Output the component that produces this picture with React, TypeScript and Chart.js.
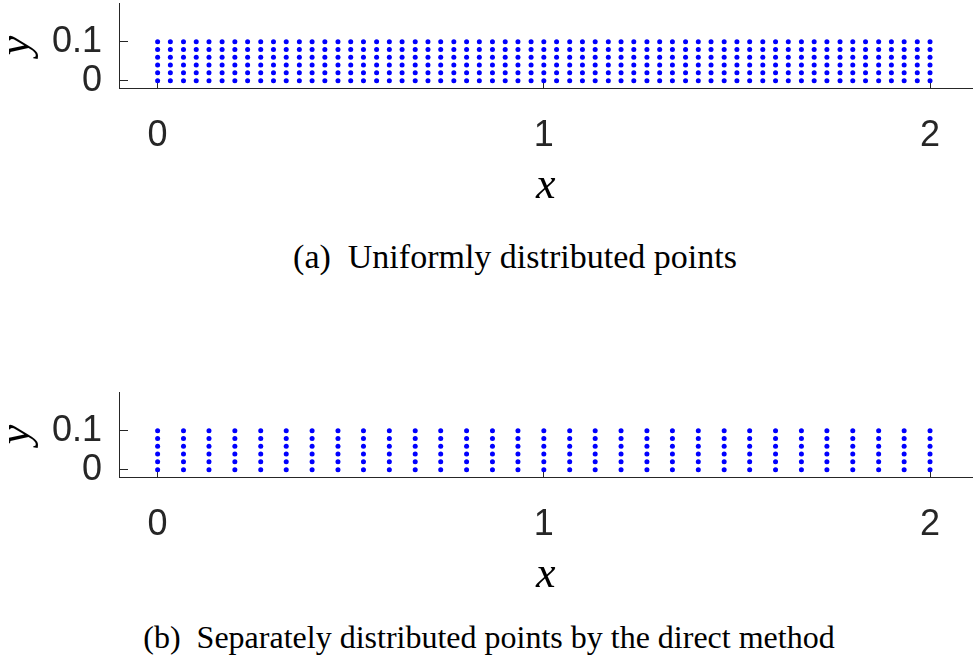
import React, { useEffect, useRef } from "react";
import { Chart, registerables } from "chart.js";

Chart.register(...registerables);

// Column x-positions of the uniformly distributed grid (panel a)
const uniformXs = [
  0, 0.033, 0.067, 0.1, 0.133, 0.167, 0.2, 0.233, 0.267, 0.3, 0.333, 0.367, 0.4, 0.433, 0.467,
  0.5, 0.533, 0.567, 0.6, 0.633, 0.667, 0.7, 0.733, 0.767, 0.8, 0.833, 0.867, 0.9, 0.933, 0.967,
  1, 1.033, 1.067, 1.1, 1.133, 1.167, 1.2, 1.233, 1.267, 1.3, 1.333, 1.367, 1.4, 1.433, 1.467,
  1.5, 1.533, 1.567, 1.6, 1.633, 1.667, 1.7, 1.733, 1.767, 1.8, 1.833, 1.867, 1.9, 1.933, 1.967, 2,
];
// Column x-positions of the separately distributed grid (panel b)
const separateXs = [
  0, 0.067, 0.133, 0.2, 0.267, 0.333, 0.4, 0.467, 0.533, 0.6, 0.667, 0.733, 0.8, 0.867, 0.933,
  1, 1.067, 1.133, 1.2, 1.267, 1.333, 1.4, 1.467, 1.533, 1.6, 1.667, 1.733, 1.8, 1.867, 1.933, 2,
];
// Row y-positions (same for both panels)
const rowYs = [0, 0.02, 0.04, 0.06, 0.08, 0.1];

const xTickValues = [0, 1, 2];
const yTickValues = [0, 0.1];
const xTickLabels = ["0", "1", "2"];
const yTickLabels = ["0", "0.1"];

const captionA = "(a)  Uniformly distributed points";
const captionB = "(b)  Separately distributed points by the direct method";

const AXIS = "#262626";
const SERIF = "'Liberation Serif', 'Times New Roman', serif";
const SANS = "'Liberation Sans', Arial, sans-serif";

type PanelProps = {
  top: number;
  xs: number[];
};

const CANVAS_H = 220;

function Panel({ top, xs }: PanelProps) {
  const ref = useRef<HTMLCanvasElement | null>(null);
  useEffect(() => {
    const canvas = ref.current;
    if (!canvas) return;
    const areaTop = 3;
    const areaBottom = 88;
    const xScaleH = CANVAS_H - areaBottom;
    const xTitleCenter = 186;
    const xTitlePadBottom = CANVAS_H - xTitleCenter - 22;

    const points: { x: number; y: number }[] = [];
    for (const x of xs) for (const y of rowYs) points.push({ x, y });

    const chart = new Chart(canvas, {
      type: "scatter",
      data: {
        datasets: [
          {
            data: points,
            pointRadius: 2.5,
            pointBackgroundColor: "#0000ff",
            pointBorderWidth: 0,
            pointHoverRadius: 2.5,
          },
        ],
      },
      options: {
        animation: false,
        responsive: false,
        devicePixelRatio: 1,
        events: [],
        layout: { padding: { top: areaTop, left: 0, right: 0, bottom: 0 } },
        plugins: {
          legend: { display: false },
          tooltip: { enabled: false },
          title: { display: false },
        },
        scales: {
          x: {
            type: "linear",
            position: "bottom",
            min: -0.1,
            max: 2.11,
            afterBuildTicks: (s: any) => {
              s.ticks = xTickValues.map((v) => ({ value: v }));
            },
            afterFit: (s: any) => {
              s.height = xScaleH;
              s.paddingLeft = 0;
              s.paddingRight = 0;
            },
            ticks: {
              color: AXIS,
              padding: 37,
              maxRotation: 0,
              autoSkip: false,
              font: { family: SANS, size: 36, lineHeight: 1 },
              callback: (v: any) => {
                const i = xTickValues.indexOf(Number(v));
                return i >= 0 ? xTickLabels[i] : "";
              },
            },
            grid: {
              display: true,
              drawOnChartArea: false,
              drawTicks: true,
              tickLength: -7,
              color: AXIS,
              lineWidth: 1,
            },
            border: { display: true, color: AXIS, width: 1 },
            title: {
              display: true,
              text: "x",
              color: "#000",
              font: { family: SERIF, size: 44, style: "italic", lineHeight: 1 },
              padding: { top: 0, bottom: xTitlePadBottom },
            },
          },
          y: {
            type: "linear",
            position: "left",
            min: -0.019,
            max: 0.2,
            afterBuildTicks: (s: any) => {
              s.ticks = yTickValues.map((v) => ({ value: v }));
            },
            afterFit: (s: any) => {
              s.width = 119;
              s.paddingTop = 0;
              s.paddingBottom = 0;
            },
            ticks: {
              color: AXIS,
              padding: 26,
              autoSkip: false,
              font: { family: SANS, size: 36, lineHeight: 1 },
              callback: (v: any) => {
                const i = yTickValues.indexOf(Number(v));
                return i >= 0 ? yTickLabels[i] : "";
              },
            },
            grid: {
              display: true,
              drawOnChartArea: false,
              drawTicks: true,
              tickLength: -9,
              color: AXIS,
              lineWidth: 1,
            },
            border: { display: true, color: AXIS, width: 1 },
            title: {
              display: true,
              text: "y",
              color: "#000",
              font: { family: SERIF, size: 44, style: "italic", lineHeight: 0.8 },
              padding: { top: 0, bottom: 0 },
            },
          },
        },
      },
    } as any);
    return () => chart.destroy();
  }, [top, xs]);

  return (
    <div style={{ position: "absolute", left: 0, top, width: 975, height: CANVAS_H }}>
      <canvas ref={ref} width={975} height={CANVAS_H} style={{ display: "block", width: 975, height: CANVAS_H }} />
    </div>
  );
}

function Caption({ text, centerX, top, size }: { text: string; centerX: number; top: number; size: number }) {
  return (
    <div
      style={{
        position: "absolute",
        left: centerX - 500,
        width: 1000,
        top,
        textAlign: "center",
        whiteSpace: "pre",
        fontFamily: SERIF,
        fontSize: size,
        lineHeight: `${size}px`,
        color: "#000",
      }}
    >
      {text}
    </div>
  );
}

export default function App() {
  return (
    <div style={{ position: "fixed", left: 0, top: 0, width: 975, height: 657, background: "#fff", overflow: "hidden" }}>
      <Panel top={0} xs={uniformXs} />
      <Caption text={captionA} centerX={515} top={240} size={34} />
      <Panel top={389} xs={separateXs} />
      <Caption text={captionB} centerX={489} top={621} size={32} />
    </div>
  );
}
